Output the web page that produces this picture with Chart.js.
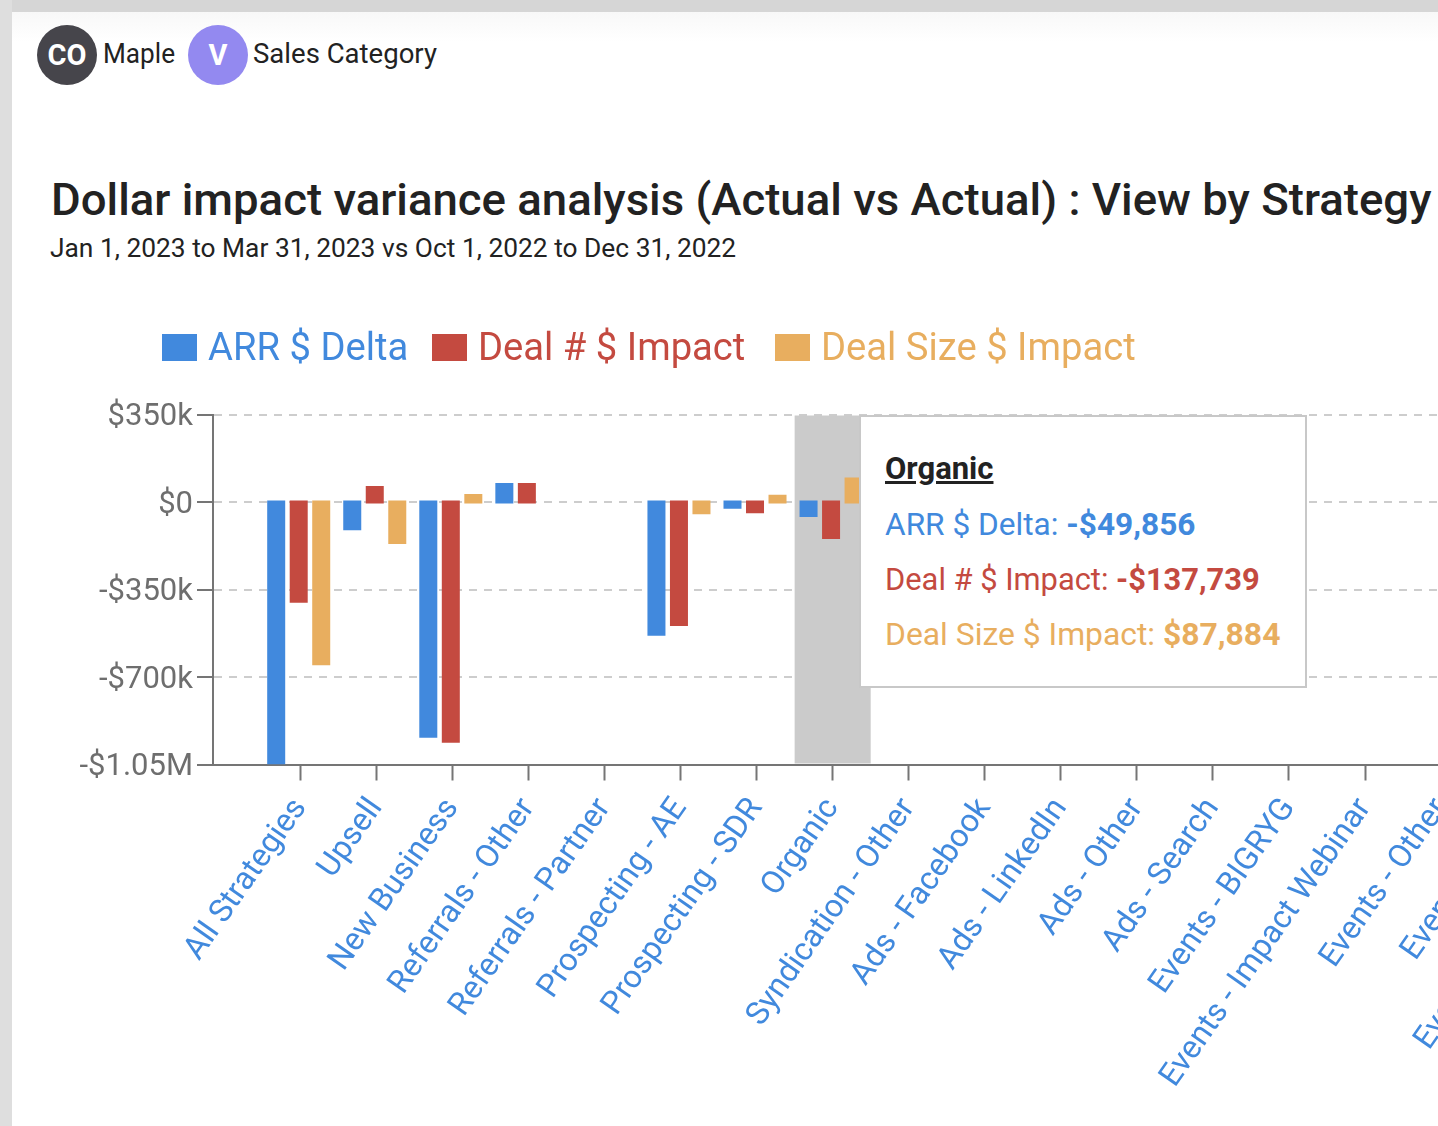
<!DOCTYPE html>
<html>
<head>
<meta charset="utf-8">
<title>Dollar impact variance analysis</title>
<script src="https://cdn.jsdelivr.net/npm/chart.js@4"></script>
<style>
  html, body { margin: 0; height: 100%; overflow: hidden; background: #fff; font-family: Roboto, sans-serif; color: #222; }
  .frame-top { position: absolute; left: 0; top: 0; width: 1438px; height: 12px; background: #d6d6d6; }
  .frame-left { position: absolute; left: 0; top: 0; width: 12px; height: 1126px; background: #dedede; }
  .fade { position: absolute; left: 12px; top: 12px; width: 1426px; height: 30px; background: linear-gradient(#f8f8f8, #fff); }
  .badge { position: absolute; top: 25px; width: 60px; height: 60px; border-radius: 50%; color: #fff; font-weight: 700; font-size: 29px; line-height: 60px; text-align: center; }
  .crumb { position: absolute; top: 37px; font-size: 27px; line-height: 34px; white-space: nowrap; transform-origin: left top; }
  #title { position: absolute; left: 51px; top: 172px; font-size: 45px; line-height: 56px; font-weight: 500; white-space: nowrap; transform-origin: left top; transform: scaleX(1.012); }
  #subtitle { position: absolute; left: 50px; top: 232px; font-size: 26px; line-height: 32px; white-space: nowrap; transform-origin: left top; transform: scaleX(1.013); }
  #chart { position: absolute; left: 0; top: 0; }
  .legend-box { position: absolute; top: 334px; width: 35px; height: 27px; }
  .legend-text { position: absolute; top: 324px; font-size: 38px; line-height: 46px; white-space: nowrap; transform-origin: left top; transform: scaleX(1.005); }
  #tip { position: absolute; left: 859px; top: 415px; width: 444px; height: 269px; background: #fff; border: 2px solid #c8c8c8; }
  #tip div { position: absolute; left: 24px; white-space: nowrap; font-size: 31px; line-height: 38px; transform-origin: left top; }
  #tip b { font-weight: 700; }
</style>
</head>
<body>
<div class="fade"></div>
<div class="frame-top"></div>
<div class="frame-left"></div>
<div class="badge" style="left:37px;background:#46454b">CO</div>
<div class="crumb" style="left:103px;transform:scaleX(.97)">Maple</div>
<div class="badge" style="left:188px;background:#9389f0">V</div>
<div class="crumb" style="left:253px;transform:scaleX(1.02)">Sales Category</div>
<div id="title">Dollar impact variance analysis (Actual vs Actual) : View by Strategy</div>
<div id="subtitle">Jan 1, 2023 to Mar 31, 2023 vs Oct 1, 2022 to Dec 31, 2022</div>
<canvas id="chart"></canvas>
<div id="legend"></div>
<div id="tip"></div>

<script>
// last two names are cut off by the window in the reference, only "Eve.." / "E.." show
const categories = ['All Strategies', 'Upsell', 'New Business', 'Referrals - Other', 'Referrals - Partner',
  'Prospecting - AE', 'Prospecting - SDR', 'Organic', 'Syndication - Other', 'Ads - Facebook', 'Ads - LinkedIn',
  'Ads - Other', 'Ads - Search', 'Events - BIGRYG', 'Events - Impact Webinar', 'Events - Other', 'Events - Misc',
  'Events - Sponsorship'];

const arrDelta   = [-1040000, -103000, -933000, 66000, null, -525000, -17000, -49856];
const dealImpact = [-393000, 54000, -953000, 66000, null, -486000, -35000, -137739];
const sizeImpact = [-643000, -158000, 22000, null, null, -39000, 19000, 87884];

const yTicks = [350000, 0, -350000, -700000, -1050000];
const yTickLabels = ['$350k', '$0', '-$350k', '-$700k', '-$1.05M'];

const seriesNames = ['ARR $ Delta', 'Deal # $ Impact', 'Deal Size $ Impact'];
const seriesColors = ['#4189dd', '#c44a40', '#e8ae5f'];
const legendLeft = [162, 432, 775];
const tipStretch = [1.02, 0.995, 1.027];
const activeIndex = 7;

const axisColor = '#757575';
const W = 1913, H = 1126;

function toPoints(values) {
  // bars sit a little left of their tick in the original
  return values.map((v, i) => ({ x: i - 0.021, y: v }));
}

const canvas = document.getElementById('chart');
canvas.style.width = W + 'px';
canvas.style.height = H + 'px';

const bandPlugin = {
  id: 'band',
  beforeDatasetsDraw(chart) {
    const x = chart.scales.x;
    const left = x.getPixelForValue(activeIndex - 0.5);
    const right = x.getPixelForValue(activeIndex + 0.5);
    const { top, bottom } = chart.chartArea;
    const ctx = chart.ctx;
    ctx.save();
    ctx.fillStyle = '#cbcbcb';
    ctx.fillRect(left, top + 1, right - left, bottom - top - 2);
    ctx.restore();
  }
};

new Chart(canvas, {
  type: 'bar',
  data: {
    datasets: [arrDelta, dealImpact, sizeImpact].map((vals, i) => ({
      label: seriesNames[i],
      data: toPoints(vals),
      backgroundColor: seriesColors[i],
      borderWidth: 0,
      inflateAmount: 2.5,
      categoryPercentage: 0.888,
      barPercentage: 0.578
    }))
  },
  options: {
    responsive: false,
    animation: false,
    devicePixelRatio: 1,
    layout: { padding: { top: 414.5, left: 0, right: 0, bottom: 0 } },
    plugins: { legend: { display: false }, tooltip: { enabled: false } },
    scales: {
      x: {
        type: 'linear',
        offset: false,
        min: -1.148,
        max: (W - 213) / 76.05 - 1.148,
        afterBuildTicks(scale) {
          scale.ticks = categories.map((c, i) => ({ value: i }));
        },
        afterFit(scale) {
          scale.height = H - 764.5;
          scale.paddingLeft = 0;
          scale.paddingRight = 0;
        },
        grid: { offset: false, drawOnChartArea: false, tickLength: 16, tickWidth: 2, tickColor: axisColor },
        border: { color: axisColor, width: 2 },
        ticks: {
          autoSkip: false,
          maxRotation: 55,
          minRotation: 55,
          padding: 11,
          color: '#4189dd',
          font: { family: 'Roboto', size: 32 },
          callback: v => categories[v]
        }
      },
      y: {
        min: -1050000,
        max: 350000,
        afterBuildTicks(scale) {
          scale.ticks = yTicks.map(v => ({ value: v }));
        },
        afterFit(scale) {
          scale.width = 213;
        },
        grid: {
          color: '#cdcdcd',
          lineWidth: 2,
          tickLength: 16,
          tickWidth: 2,
          tickColor: axisColor
        },
        border: { color: axisColor, width: 2, dash: [8, 7] },
        ticks: {
          padding: 4,
          color: '#6e6e6e',
          // blank first line + tiny lineHeight nudges the text down to sit on its tick
          font: { family: 'Roboto', size: 31, lineHeight: 0.2 },
          callback: v => ['', yTickLabels[yTicks.indexOf(v)]]
        }
      }
    }
  },
  plugins: [bandPlugin]
});

// legend and tooltip are plain DOM in the original, fed from the same arrays
const legend = document.getElementById('legend');
seriesNames.forEach((name, i) => {
  const box = document.createElement('div');
  box.className = 'legend-box';
  box.style.left = legendLeft[i] + 'px';
  box.style.background = seriesColors[i];
  legend.appendChild(box);
  const text = document.createElement('div');
  text.className = 'legend-text';
  text.style.left = (legendLeft[i] + 46) + 'px';
  text.style.color = seriesColors[i];
  text.textContent = name;
  legend.appendChild(text);
});

function money(v) {
  return (v < 0 ? '-$' : '$') + Math.abs(v).toLocaleString('en-US');
}

const tip = document.getElementById('tip');
const tipTitle = document.createElement('div');
tipTitle.style.top = '33px';
tipTitle.style.color = '#222';
tipTitle.innerHTML = '<b style="text-decoration:underline">' + categories[activeIndex] + '</b>';
tip.appendChild(tipTitle);
[arrDelta, dealImpact, sizeImpact].forEach((vals, i) => {
  const row = document.createElement('div');
  row.style.top = (89 + i * 55) + 'px';
  row.style.color = seriesColors[i];
  row.style.transform = 'scaleX(' + tipStretch[i] + ')';
  row.innerHTML = seriesNames[i] + ': <b>' + money(vals[activeIndex]) + '</b>';
  tip.appendChild(row);
});
</script>
</body>
</html>
